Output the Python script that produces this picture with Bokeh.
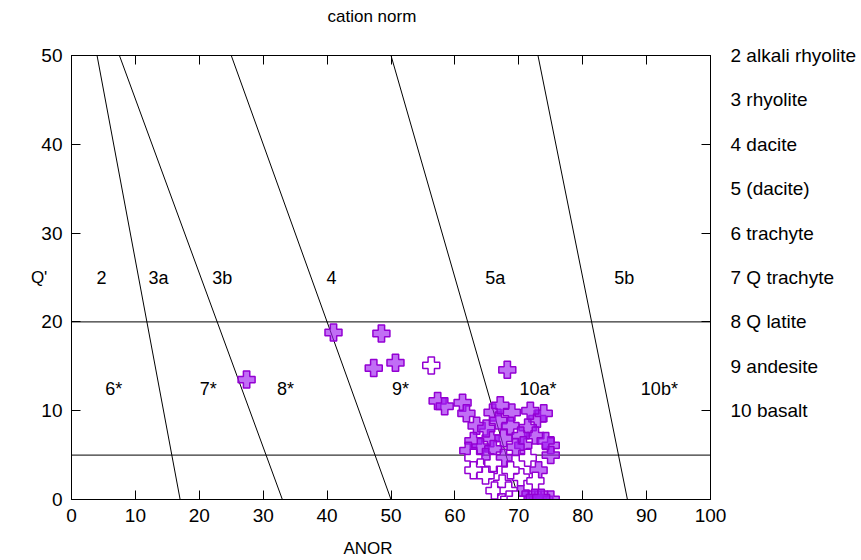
from bokeh.plotting import figure
from bokeh.models import Range1d, LinearAxis, FixedTicker, Title
from bokeh.core.properties import value
from bokeh.embed import file_html
from bokeh.resources import INLINE

FONT = "Liberation Sans"
FS = "17px"
FS_TICK = "19px"
FS_FIELD = "18px"
FS_KEY = "19px"

# classification boundary lines (ANOR at Q'=50 and at Q'=0)
bound_top_x = [4, 7.5, 25, 50, 73]
bound_bot_x = [17, 33, 50, 70, 87]
h_lines_y = [20, 5]

# field labels
upper_names = ["2", "3a", "3b", "4", "5a", "5b"]
upper_x = [4.7, 13.6, 23.6, 40.7, 66.3, 86.5]
upper_y = [25, 25, 25, 25, 25, 25]
lower_names = ["6*", "7*", "8*", "9*", "10a*", "10b*"]
lower_x = [6.6, 21.4, 33.5, 51.5, 73.0, 92.0]
lower_y = [12.5, 12.5, 12.5, 12.5, 12.5, 12.5]

# key of field numbers
key_names = ["2 alkali rhyolite", "3 rhyolite", "4 dacite", "5 (dacite)", "6 trachyte",
             "7 Q trachyte", "8 Q latite", "9 andesite", "10 basalt"]
key_y = [50, 45, 40, 35, 30, 25, 20, 15, 10]

x_ticks = [0, 10, 20, 30, 40, 50, 60, 70, 80, 90, 100]
y_ticks = [0, 10, 20, 30, 40, 50]

# samples (filled)
filled_anor = [41.0, 48.5, 47.3, 50.7, 27.4, 68.2, 57.3, 58.4, 61.2,
               61.8, 63.4, 65.9, 66.8, 68.9, 68.7, 72.9, 73.9, 71.4, 72.6, 70.3,
               65.6, 67.6, 75.0, 75.0, 62.9, 64.0, 62.1, 66.0, 67.6, 70.7, 73.1, 70.3,
               64.9, 67.1, 69.5, 64.8, 71.8, 74.2,
               71.0, 72.0, 73.0, 74.0, 75.0, 72.5, 73.5]
filled_q = [18.8, 18.7, 14.8, 15.4, 13.5, 14.6, 11.1, 10.5, 10.9,
            9.7, 8.3, 9.8, 8.9, 9.8, 8.3, 9.1, 9.7, 8.1, 7.2, 7.2,
            6.9, 6.9, 6.1, 5.0, 6.6, 5.9, 5.5, 5.7, 4.7, 6.1, 3.3, 0.7,
            8.0, 10.6, 5.9, 4.8, 10.0, 6.6,
            0.0, 0.0, 0.0, 0.0, 0.0, 0.2, 0.2]

# samples (open)
open_anor = [56.3, 71.4, 62.9, 64.0, 65.3, 62.9, 66.0, 70.3, 67.4, 67.4, 66.2,
             68.7, 64.8, 68.4, 72.6, 68.5, 69.5]
open_q = [15.1, 4.7, 4.7, 3.6, 3.3, 3.3, 4.1, 2.5, 1.8, 0.1, 1.0,
          3.3, 2.7, 1.0, 2.1, 0.0, 0.0]

p = figure(width=861, height=560, x_range=Range1d(0, 100), y_range=Range1d(0, 50),
           output_backend="svg", toolbar_location=None,
           min_border_left=71, min_border_right=151, min_border_top=55, min_border_bottom=61)
p.xgrid.visible = False
p.ygrid.visible = False
p.outline_line_color = "black"
p.outline_line_width = 1
p.background_fill_color = "white"
p.border_fill_color = "white"

p.title.text = "cation norm"
p.title.align = "left"
p.title.offset = 256
p.title.text_font = FONT
p.title.text_font_size = FS
p.title.text_font_style = "normal"
p.title.text_color = "black"
p.title.standoff = 0


def style_axis(ax, ticks, show_labels=True):
    ax.ticker = FixedTicker(ticks=ticks)
    ax.major_tick_in = 9
    ax.major_tick_out = 0
    ax.minor_tick_in = 0
    ax.minor_tick_out = 0
    ax.axis_line_color = "black"
    ax.major_tick_line_color = "black"
    ax.major_label_text_font = FONT
    ax.major_label_text_font_size = FS_TICK
    ax.major_label_text_color = "black"
    if not show_labels:
        ax.major_label_overrides = {t: "" for t in ticks}
        ax.major_label_standoff = 0


def spacer_axis(gap):
    ax = LinearAxis()
    style_axis(ax, [0], False)
    ax.major_tick_in = 0
    ax.major_tick_out = gap
    ax.major_tick_line_alpha = 0
    ax.axis_line_color = None
    return ax


style_axis(p.xaxis[0], x_ticks)
p.xaxis[0].major_label_standoff = 9
style_axis(p.yaxis[0], y_ticks)
p.yaxis[0].major_label_standoff = 9
p.yaxis[0].axis_label = "Q'"
p.yaxis[0].axis_label_orientation = "horizontal"
p.yaxis[0].axis_label_text_font = FONT
p.yaxis[0].axis_label_text_font_size = FS
p.yaxis[0].axis_label_text_font_style = "normal"
p.yaxis[0].axis_label_text_color = "black"
p.yaxis[0].axis_label_standoff = -9

# mirrored ticks on top, then a gap below the title
top_ax = LinearAxis()
style_axis(top_ax, x_ticks, False)
p.add_layout(top_ax, "above")
p.add_layout(spacer_axis(30), "above")

right_ax = LinearAxis()
style_axis(right_ax, y_ticks, False)
p.add_layout(right_ax, "right")

key_ax = LinearAxis()
key_ax.ticker = FixedTicker(ticks=key_y)
key_ax.major_label_overrides = {k: n for k, n in zip(key_y, key_names)}
key_ax.major_tick_in = 0
key_ax.major_tick_out = 0
key_ax.minor_tick_in = 0
key_ax.minor_tick_out = 0
key_ax.axis_line_color = None
key_ax.major_label_standoff = 20
key_ax.major_label_text_font = FONT
key_ax.major_label_text_font_size = FS_KEY
key_ax.major_label_text_color = "black"
p.add_layout(key_ax, "right")

# gap below the x axis, then the x title
p.add_layout(spacer_axis(12), "below")
p.add_layout(Title(text="ANOR", align="left", offset=272, text_font=FONT, text_font_size=FS,
                   text_font_style="normal", text_color="black", standoff=0), "below")

# boundaries
p.segment(x0=bound_top_x, y0=[50] * len(bound_top_x), x1=bound_bot_x, y1=[0] * len(bound_bot_x),
          line_color="black", line_width=1)
p.segment(x0=[0] * len(h_lines_y), y0=h_lines_y, x1=[100] * len(h_lines_y), y1=h_lines_y,
          line_color="black", line_width=1)

# field labels
p.text(x=upper_x, y=upper_y, text=upper_names, text_font=value(FONT), text_font_size=FS_FIELD,
       text_align="center", text_baseline="middle", text_color="black")
p.text(x=lower_x, y=lower_y, text=lower_names, text_font=value(FONT), text_font_size=FS_FIELD,
       text_align="center", text_baseline="middle", text_color="black")

# samples
p.scatter(filled_anor, filled_q, marker="plus", size=17, fill_color="#a020f0", fill_alpha=0.65,
          line_color="#9400d3", line_width=1.5)
p.scatter(open_anor, open_q, marker="plus", size=17, fill_color="white", fill_alpha=1.0,
          line_color="#9400d3", line_width=1.5)

open("out.html", "w").write(file_html(p, INLINE))
